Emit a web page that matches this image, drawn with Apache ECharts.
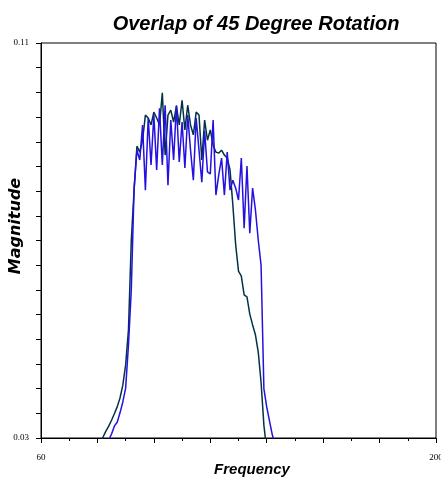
<!DOCTYPE html>
<html>
<head>
<meta charset="utf-8">
<script src="https://cdn.jsdelivr.net/npm/echarts@6/dist/echarts.min.js"></script>
<style>html,body{margin:0;padding:0;background:#fff}#c{width:441px;height:484px}</style>
</head>
<body>
<div id="c"></div>
<script>
var titleText = 'Overlap of 45 Degree Rotation';
var xName = 'Frequency';
var yName = 'Magnitude';
var xTickLabels = [60, 200];
var yTickLabels = [0.03, 0.11];

var tealFreq = [81,82,83,84,85,86,87,88,89,90,91,92,93,94,95,96,97,98,99,100,101,102,103,104,105,106,107,108,109,110,111,112,113,114,115,116,117,118,119,120,121,122,123,124,125,126,127,128,129,130,131,132,133,134,135,136,137,138,139,140];
var tealMag = [0.0288,0.0302,0.0314,0.0324,0.0336,0.0349,0.0363,0.0381,0.0407,0.0448,0.0519,0.0700,0.0802,0.0891,0.0879,0.0903,0.0954,0.0948,0.0934,0.0960,0.0948,0.0934,0.0999,0.0873,0.0954,0.0964,0.0940,0.0972,0.0934,0.0984,0.0924,0.0974,0.0934,0.0914,0.0960,0.0954,0.0863,0.0944,0.0903,0.0924,0.0893,0.0879,0.0877,0.0883,0.0873,0.0867,0.0843,0.0772,0.0691,0.0638,0.0628,0.0590,0.0586,0.0551,0.0529,0.0509,0.0474,0.0413,0.0326,0.0276];

var blueFreq = [83,84,85,86,87,88,89,90,91,92,93,94,95,96,97,98,99,100,101,102,103,104,105,106,107,108,109,110,111,112,113,114,115,116,117,118,119,120,121,122,123,124,125,126,127,128,129,130,131,132,133,134,135,136,137,138,139,140,141,142,143];
var blueMag = [0.0284,0.0296,0.0308,0.0324,0.0332,0.0351,0.0373,0.0401,0.0488,0.0600,0.0806,0.0883,0.0863,0.0934,0.0802,0.0948,0.0853,0.0954,0.0843,0.0968,0.0853,0.0974,0.0812,0.0944,0.0863,0.0974,0.0859,0.0940,0.0847,0.0954,0.0883,0.0822,0.0948,0.0883,0.0818,0.0922,0.0839,0.0835,0.0944,0.0792,0.0833,0.0867,0.0792,0.0879,0.0802,0.0822,0.0806,0.0782,0.0867,0.0725,0.0851,0.0715,0.0806,0.0762,0.0701,0.0650,0.0400,0.0363,0.0334,0.0306,0.0286];

function pairs(xs, ys){ return xs.map(function(x,i){ return [x, ys[i]]; }); }

var nameFont = '"Liberation Sans", Arial, sans-serif';
var chart = echarts.init(document.getElementById('c'), null, {renderer:'canvas'});
chart.setOption({
  backgroundColor: '#ffffff',
  animation: false,
  title: {
    text: titleText,
    left: 251, top: 9, textAlign: 'center',
    textStyle: {fontFamily: nameFont, fontWeight: 'bold', fontStyle: 'italic', fontSize: 20, color: '#000'}
  },
  graphic: [
    {type: 'text', x: 252, y: 470, style: {text: xName, font: 'italic bold 15px "Liberation Sans", Arial, sans-serif', fill: '#000', textAlign: 'center', textVerticalAlign: 'middle'}},
    {type: 'text', x: 16, y: 226, rotation: Math.PI / 2, style: {text: yName, font: 'italic bold 16px "DejaVu Sans", sans-serif', fill: '#000', textAlign: 'center', textVerticalAlign: 'middle'}}
  ],
  grid: {left: 41, right: 5, top: 43, bottom: 46, containLabel: false, outerBoundsMode: 'none', show: true, borderColor: '#000', borderWidth: 1, backgroundColor: 'transparent'},
  xAxis: {
    type: 'value', min: 60, max: 200, interval: 20,
    axisLine: {show: true, onZero: false, lineStyle: {color: '#000', width: 1}},
    axisTick: {show: true, length: 5, lineStyle: {color: '#000'}},
    minorTick: {show: true, splitNumber: 2, length: 3, lineStyle: {color: '#000'}},
    splitLine: {show: false},
    axisLabel: {
      margin: 15, fontFamily: '"Liberation Serif", "Times New Roman", serif', fontSize: 9, color: '#000',
      formatter: function(v){ for (var i=0;i<xTickLabels.length;i++){ if (Math.abs(v-xTickLabels[i])<1e-6) return String(xTickLabels[i]); } return ''; }
    }
  },
  yAxis: {
    type: 'value', min: 0.03, max: 0.11, interval: 0.005,
    axisLine: {show: true, onZero: false, lineStyle: {color: '#000', width: 1}},
    axisTick: {show: true, length: 5, lineStyle: {color: '#000'}},
    splitLine: {show: false},
    axisLabel: {
      margin: 12, fontFamily: '"Liberation Serif", "Times New Roman", serif', fontSize: 9, color: '#000',
      formatter: function(v){ for (var i=0;i<yTickLabels.length;i++){ if (Math.abs(v-yTickLabels[i])<1e-6) return yTickLabels[i].toFixed(2); } return ''; }
    }
  },
  series: [
    {type: 'line', data: pairs(tealFreq, tealMag), showSymbol: false, clip: true, lineStyle: {color: '#003344', width: 1.5}, itemStyle: {color: '#003344'}, z: 2},
    {type: 'line', data: pairs(blueFreq, blueMag), showSymbol: false, clip: true, lineStyle: {color: '#2410e0', width: 1.5}, itemStyle: {color: '#2410e0'}, z: 3}
  ]
});
</script>
</body>
</html>
